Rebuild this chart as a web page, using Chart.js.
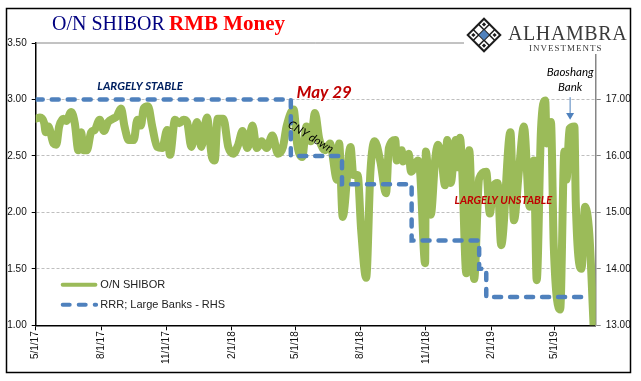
<!DOCTYPE html>
<html>
<head>
<meta charset="utf-8">
<title>O/N SHIBOR RMB Money</title>
<script src="https://cdn.jsdelivr.net/npm/chart.js@4/dist/chart.umd.js"></script>
<style>
  html, body { margin: 0; padding: 0; background: #fff; }
  canvas { display: block; }
</style>
</head>
<body>
<canvas id="chart" width="641" height="381"></canvas>
<script>
// x values are days since 5/1/17
const tickDays = [0, 92, 184, 276, 365, 457, 549, 641, 730];
const tickLabels = ["5/1/17", "8/1/17", "11/1/17", "2/1/18", "5/1/18", "8/1/18", "11/1/18", "2/1/19", "5/1/19"];

const shiborDays = [
  0, 6, 12, 14, 18, 20, 25, 29, 33, 39, 43, 50, 55, 60, 64, 67, 72, 78, 83, 90,
  96, 102, 109, 114, 120, 125, 131, 138, 143, 148, 152, 158, 164, 171, 178, 185, 189, 196, 202, 208,
  213, 219, 227, 233, 241, 248, 252, 256, 264, 271, 278, 285, 291, 298, 305, 311, 318, 325, 333, 341,
  348, 353, 363, 368, 375, 381, 387, 393, 399, 407, 414, 424, 427, 432, 443, 447, 453, 458, 465, 471,
  477, 485, 493, 497, 506, 508, 515, 517, 525, 528, 538, 541, 548, 549, 556, 562, 566, 571, 576, 579,
  584, 591, 593, 597, 600, 606, 610, 617, 624, 634, 639, 644, 650, 655, 668, 673, 680, 687, 695, 701,
  705, 711, 717, 719, 725, 729, 738, 744, 747, 751, 758, 760, 768, 773, 779, 785
];
const shiborValues = [
  2.83, 2.84, 2.79, 2.71, 2.76, 2.73, 2.61, 2.60, 2.76, 2.83, 2.81, 2.89, 2.79, 2.55, 2.71, 2.55, 2.55, 2.71, 2.73, 2.82,
  2.72, 2.80, 2.83, 2.85, 2.92, 2.76, 2.64, 2.64, 2.82, 2.77, 2.92, 2.94, 2.76, 2.58, 2.57, 2.73, 2.51, 2.82, 2.79, 2.82,
  2.80, 2.58, 2.80, 2.58, 2.84, 2.49, 2.46, 2.83, 2.83, 2.58, 2.52, 2.60, 2.72, 2.57, 2.77, 2.57, 2.63, 2.57, 2.68, 2.52,
  2.58, 2.76, 2.91, 2.60, 2.49, 2.76, 2.63, 2.88, 2.65, 2.55, 2.61, 2.29, 2.61, 1.96, 2.58, 2.33, 2.33, 1.84, 1.42, 2.36,
  2.63, 2.45, 2.17, 2.57, 2.64, 2.46, 2.55, 2.45, 2.52, 2.36, 2.46, 2.35, 1.55, 2.54, 1.98, 2.46, 2.60, 2.48, 2.24, 2.64,
  2.26, 2.64, 2.40, 2.66, 2.40, 1.46, 2.55, 1.41, 2.30, 2.36, 1.99, 2.23, 2.26, 1.71, 2.71, 1.93, 2.37, 2.76, 2.05, 2.46,
  1.40, 2.73, 2.99, 2.61, 2.80, 1.70, 1.14, 2.54, 2.29, 2.74, 2.76, 2.08, 1.50, 2.05, 1.81, 1.00
];

const rrrDays = [0, 359, 431, 529, 624, 634, 778];
const rrrValues = [17, 16, 15.5, 14.5, 14, 13.5, 13.5];

const GREEN = "#9BBB59";
const BLUE = "#4F81BD";
const GREY = "#868686";
const NOTE_FONT = "Lato, 'Liberation Sans', sans-serif";

function text(ctx, str, x, y, font, color, align) {
  ctx.font = font;
  ctx.fillStyle = color;
  ctx.textAlign = align || "center";
  ctx.textBaseline = "middle";
  ctx.fillText(str, x, y);
}

function drawLogo(ctx) {
  // white patch hides the axis ends behind the logo
  ctx.fillStyle = "#fff";
  ctx.fillRect(464, 12, 165, 42);

  ctx.save();
  ctx.translate(484, 35);
  ctx.rotate(Math.PI / 4);
  ctx.fillStyle = "#1c1c1c";
  ctx.fillRect(-12.5, -12.5, 25, 25);
  ctx.fillStyle = "#fff";
  [-10.5, -3, 4.5].forEach((a) => {
    [-10.5, -3, 4.5].forEach((b) => ctx.fillRect(a, b, 6, 6));
  });
  ctx.fillStyle = "#1c1c1c";
  [-10.5, 4.5].forEach((a) => {
    [-10.5, 4.5].forEach((b) => ctx.fillRect(a + 1.5, b + 1.5, 3, 3));
  });
  ctx.fillStyle = BLUE;
  ctx.fillRect(-3.5, -3.5, 7, 7);
  ctx.restore();

  ctx.textBaseline = "alphabetic";
  ctx.textAlign = "left";
  ctx.fillStyle = "#3a3a3a";
  ctx.font = "20px 'Liberation Serif', serif";
  ctx.letterSpacing = "0.6px";
  ctx.fillText("ALHAMBRA", 508, 40);
  ctx.font = "9px 'Liberation Serif', serif";
  ctx.letterSpacing = "1px";
  ctx.fillText("INVESTMENTS", 529, 51);
  ctx.letterSpacing = "0px";
}

// everything Excel had as text boxes on top of the chart
const notesPlugin = {
  id: "notes",
  beforeDatasetsDraw(chart) {
    const { ctx, chartArea, scales } = chart;
    ctx.save();
    ctx.strokeStyle = GREY;
    ctx.lineWidth = 1;
    ctx.beginPath();
    ctx.moveTo(chartArea.left, scales.y.getPixelForValue(3.5));
    ctx.lineTo(chartArea.right, scales.y.getPixelForValue(3.5));
    ctx.stroke();
    ctx.restore();
  },
  afterDraw(chart) {
    const { ctx, scales } = chart;
    const px = (d) => scales.x.getPixelForValue(d);
    const py = (v) => scales.y.getPixelForValue(v);
    ctx.save();

    drawLogo(ctx);

    // title
    ctx.textBaseline = "alphabetic";
    ctx.textAlign = "left";
    ctx.font = "20px 'Liberation Serif', serif";
    ctx.fillStyle = "#000080";
    ctx.fillText("O/N SHIBOR", 52, 30);
    ctx.font = "bold 21px 'Liberation Serif', serif";
    ctx.fillStyle = "#FF0000";
    ctx.fillText("RMB Money", 169, 30);

    text(ctx, "LARGELY STABLE", px(147), py(3.12), "italic bold 11.5px " + NOTE_FONT, "#002060");
    text(ctx, "May 29", px(406), py(3.065), "italic bold 17px " + NOTE_FONT, "#C00000");
    text(ctx, "LARGELY UNSTABLE", px(658), py(2.11), "italic bold 11px " + NOTE_FONT, "#C00000");
    text(ctx, "Baoshang", px(752), py(3.24), "italic 11.5px " + NOTE_FONT, "#000");
    text(ctx, "Bank", px(752), py(3.11), "italic 11.5px " + NOTE_FONT, "#000");

    ctx.save();
    ctx.translate(px(387), py(2.67));
    ctx.rotate((31 * Math.PI) / 180);
    text(ctx, "CNY down", 0, 0, "italic 11.5px " + NOTE_FONT, "#000");
    ctx.restore();

    // Baoshang arrow
    const ax = px(752);
    ctx.strokeStyle = BLUE;
    ctx.fillStyle = BLUE;
    ctx.lineWidth = 1;
    ctx.beginPath();
    ctx.moveTo(ax, py(3.02));
    ctx.lineTo(ax, py(2.88));
    ctx.stroke();
    ctx.beginPath();
    ctx.moveTo(ax - 4, py(2.88));
    ctx.lineTo(ax + 4, py(2.88));
    ctx.lineTo(ax, py(2.82));
    ctx.closePath();
    ctx.fill();

    // legend
    ctx.lineCap = "round";
    ctx.strokeStyle = GREEN;
    ctx.lineWidth = 4;
    ctx.beginPath();
    ctx.moveTo(px(38), py(1.358));
    ctx.lineTo(px(84), py(1.358));
    ctx.stroke();
    ctx.strokeStyle = BLUE;
    ctx.setLineDash([7, 9]);
    ctx.beginPath();
    ctx.moveTo(px(38), py(1.183));
    ctx.lineTo(px(85), py(1.183));
    ctx.stroke();
    ctx.setLineDash([]);
    const legendFont = "11px 'Liberation Sans', sans-serif";
    text(ctx, "O/N SHIBOR", px(91), py(1.358), legendFont, "#222", "left");
    text(ctx, "RRR; Large Banks - RHS", px(91), py(1.183), legendFont, "#222", "left");

    // outer frame
    ctx.strokeStyle = "#000";
    ctx.lineWidth = 1.5;
    ctx.strokeRect(6.5, 8.5, 624, 364);
    ctx.restore();
  },
};

const tickFont = { family: "'Liberation Sans', sans-serif", size: 10 };

new Chart(document.getElementById("chart").getContext("2d"), {
  type: "line",
  data: {
    datasets: [
      {
        label: "O/N SHIBOR",
        data: shiborDays.map((d, i) => ({ x: d, y: shiborValues[i] })),
        yAxisID: "y",
        borderColor: GREEN,
        backgroundColor: GREEN,
        borderWidth: 8,
        pointRadius: 0,
        cubicInterpolationMode: "monotone",
        borderJoinStyle: "round",
        borderCapStyle: "round",
        clip: 0,
        order: 2,
      },
      {
        label: "RRR; Large Banks - RHS",
        data: rrrDays.map((d, i) => ({ x: d, y: rrrValues[i] })),
        yAxisID: "y2",
        borderColor: BLUE,
        backgroundColor: BLUE,
        borderWidth: 4.5,
        borderDash: [7, 9],
        borderCapStyle: "round",
        pointRadius: 0,
        stepped: true,
        order: 1,
      },
    ],
  },
  options: {
    responsive: false,
    animation: false,
    events: [],
    layout: { padding: { top: 43, left: 0, right: 0, bottom: 0 } },
    plugins: { legend: { display: false }, tooltip: { enabled: false } },
    scales: {
      x: {
        type: "linear",
        min: 0,
        max: 788,
        afterBuildTicks(scale) {
          scale.ticks = tickDays.map((value) => ({ value }));
        },
        afterFit(scale) {
          scale.height = 55.7;
        },
        grid: { drawOnChartArea: false, tickColor: "#000", tickLength: 5 },
        border: { color: "#000", width: 1.5 },
        ticks: {
          autoSkip: false,
          minRotation: 90,
          maxRotation: 90,
          padding: 1,
          color: "#111",
          font: tickFont,
          callback: (v, i) => tickLabels[i],
        },
      },
      y: {
        position: "left",
        min: 1,
        max: 3.5,
        afterFit(scale) {
          scale.width = 35.7;
        },
        grid: {
          color: (c) => (c.tick.value === 1 || c.tick.value === 3.5 ? "transparent" : "#BFBFBF"),
          tickColor: "#000",
          tickLength: 4,
        },
        border: { color: "#000", width: 1.5, dash: [3, 2] },
        ticks: {
          stepSize: 0.5,
          padding: 5,
          color: "#111",
          font: tickFont,
          callback: (v) => v.toFixed(2),
        },
      },
      y2: {
        position: "right",
        min: 13,
        max: 18,
        afterFit(scale) {
          scale.width = 45.3;
        },
        grid: { drawOnChartArea: false, tickColor: GREY, tickLength: 5 },
        border: { color: GREY, width: 1.5 },
        ticks: {
          stepSize: 1,
          padding: 5,
          color: "#111",
          font: tickFont,
          callback: (v) => (v === 18 ? "" : v.toFixed(2)),
        },
      },
    },
  },
  plugins: [notesPlugin],
});
</script>
</body>
</html>
